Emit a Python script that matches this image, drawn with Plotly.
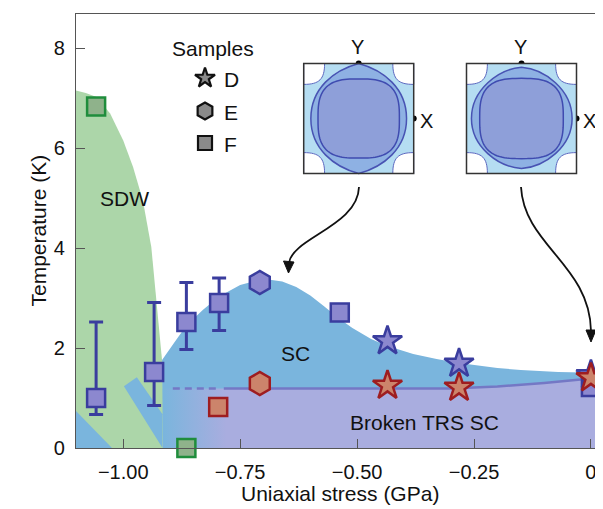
import plotly.graph_objects as go

# ---------------- data ----------------
x_tickvals = [-1.0, -0.75, -0.5, -0.25, 0.0]
x_ticktext = ["−1.00", "−0.75", "−0.50", "−0.25", "0"]
y_tickvals = [0, 2, 4, 6, 8]

# SDW phase boundary (GPa, K)
sdw_x = [-1.101, -1.080, -1.057, -1.028, -1.000, -0.979, -0.958, -0.940, -0.929, -0.922, -0.917, -0.915]
sdw_t = [7.15, 7.10, 7.02, 6.69, 6.15, 5.62, 4.95, 4.02, 2.95, 2.29, 1.75, 0.0]

# SC dome boundary
sc_x = [-0.917, -0.890, -0.865, -0.830, -0.795, -0.750, -0.715, -0.690, -0.660, -0.630, -0.600, -0.570,
        -0.540, -0.510, -0.470, -0.435, -0.380, -0.330, -0.282, -0.200, -0.150, -0.070, 0.0, 0.026]
sc_t = [1.76, 2.12, 2.45, 2.76, 3.03, 3.26, 3.35, 3.37, 3.33, 3.22, 3.05, 2.83,
        2.60, 2.40, 2.18, 2.04, 1.88, 1.78, 1.70, 1.60, 1.56, 1.52, 1.50, 1.50]

# broken-TRS boundary
trs_x = [-0.917, -0.300, -0.200, -0.100, 0.000, 0.026]
trs_t = [1.19, 1.19, 1.23, 1.30, 1.39, 1.41]
trs_dash_x = [-0.894, -0.800]
trs_dash_t = [1.19, 1.19]

# hatched coexistence stripes (SC bands in SDW)
band1_x = [-1.101, -1.101, -1.024]
band1_t = [0.0, 0.74, 0.0]
band2_x = [-0.9985, -0.9709, -0.916, -0.916]
band2_t = [1.234, 1.414, 0.674, 0.0]

# Sample F (squares)
F_err_x = [-1.058, -0.934, -0.865, -0.795]
F_err_t = [1.00, 1.52, 2.52, 2.90]
F_err_up = [1.52, 1.39, 0.79, 0.50]
F_err_dn = [0.33, 0.67, 0.55, 0.55]
F_sc_x = [0.0, -0.537]
F_sc_t = [1.22, 2.71]
F_sdw_x = [-1.058, -0.865]
F_sdw_t = [6.83, 0.0]
F_trs_x = [-0.797]
F_trs_t = [0.82]
# Sample E (hexagons)
E_sc_x = [-0.708]
E_sc_t = [3.31]
E_trs_x = [-0.708]
E_trs_t = [1.29]
# Sample D (stars)
D_sc_x = [-0.435, -0.282, 0.0]
D_sc_t = [2.14, 1.69, 1.46]
D_trs_x = [-0.435, -0.282, 0.0]
D_trs_t = [1.25, 1.21, 1.40]

legend_labels = ["D", "E", "F"]
legend_symbols = ["star", "hexagon", "square"]

# ---------------- style ----------------
FONT = "Liberation Sans, Arial, Helvetica, sans-serif"
BLUE = "#7ab5dd"
GREEN = "#acd6a9"
PURPLE = "#a9addf"
LINEC = "#7478c5"
P_FILL, P_EDGE = "#8c88cf", "#3a3d9e"
R_FILL, R_EDGE = "#cc846b", "#9e1d20"
G_FILL, G_EDGE = "#8fb28b", "#1f8d3c"

X0, X1 = -1.101, 0.0258
Y0, Y1 = 0.0, 8.68

fig = go.Figure()

def poly(xs, ys, color, **kw):
    fig.add_trace(go.Scatter(x=xs, y=ys, mode="lines", fill="toself", fillcolor=color,
                             line=dict(width=0), hoverinfo="skip", showlegend=False, **kw))

# SC dome
poly([sc_x[0]] + sc_x + [sc_x[-1]], [0] + sc_t + [0], BLUE)
# broken TRS region with gradient
fig.add_trace(go.Scatter(x=[trs_x[0]] + trs_x + [trs_x[-1]], y=[0] + trs_t + [0], mode="lines",
                         fill="toself", line=dict(width=0), hoverinfo="skip", showlegend=False,
                         fillgradient=dict(type="horizontal", colorscale=[[0, BLUE], [1, PURPLE]],
                                           start=-0.915, stop=-0.78)))
# SDW
poly([sdw_x[0]] + sdw_x + [sdw_x[0]], [0] + sdw_t + [0], GREEN)
# stripes
poly(band1_x, band1_t, BLUE)
poly(band2_x, band2_t, BLUE)

# TRS line
fig.add_trace(go.Scatter(x=trs_dash_x, y=trs_dash_t, mode="lines",
                         line=dict(color=LINEC, width=2.5, dash="7px,5px"), showlegend=False))
fig.add_trace(go.Scatter(x=[-0.785] + trs_x[1:], y=[1.19] + trs_t[1:], mode="lines",
                         line=dict(color=LINEC, width=2.5), showlegend=False))

def pts(xs, ys, sym, size, fill, edge, **kw):
    fig.add_trace(go.Scatter(x=xs, y=ys, mode="markers", cliponaxis=False, showlegend=False,
                             marker=dict(symbol=sym, size=size, color=fill, line=dict(color=edge, width=2.5)), **kw))

pts(F_err_x, F_err_t, "square", 18, P_FILL, P_EDGE,
    error_y=dict(type="data", symmetric=False, array=F_err_up, arrayminus=F_err_dn,
                 color=P_EDGE, thickness=3, width=7))
pts(F_sc_x, F_sc_t, "square", 18, P_FILL, P_EDGE)
pts(F_sdw_x, F_sdw_t, "square", 18, G_FILL, G_EDGE)
pts(F_trs_x, F_trs_t, "square", 18, R_FILL, R_EDGE)
pts(E_sc_x, E_sc_t, "hexagon", 23, P_FILL, P_EDGE)
pts(E_trs_x, E_trs_t, "hexagon", 23, R_FILL, R_EDGE)
pts(D_sc_x, D_sc_t, "star", 22, P_FILL, P_EDGE)
pts(D_trs_x, D_trs_t, "star", 22, R_FILL, R_EDGE)

# ---------------- overlay pixel axes for decorations ----------------
shapes = []
annos = []

def U(cx, cy, u, v):
    return (cx + 55 * u, cy - 55 * v)

def path_from(cx, cy, cmds):
    s = ""
    for c in cmds:
        if isinstance(c, str):
            s += c + " "
        else:
            x, y = U(cx, cy, c[0], c[1])
            s += f"{x:.2f},{y:.2f} "
    return s.strip()

def superellipse(cx, cy, a, b, n, N=120):
    import math
    s = ""
    for i in range(N):
        th = 2 * math.pi * i / N
        c, sn = math.cos(th), math.sin(th)
        x = a * (abs(c) ** (2 / n)) * (1 if c >= 0 else -1)
        y = b * (abs(sn) ** (2 / n)) * (1 if sn >= 0 else -1)
        px, py = U(cx, cy, x, y)
        s += ("M " if i == 0 else "L ") + f"{px:.2f},{py:.2f} "
    return s + "Z"

def inset(cx, cy, outer_cmds, inner_a, inner_b, pocket=0.62):
    shapes.append(dict(type="rect", xref="x2", yref="y2", x0=cx - 55, x1=cx + 55, y0=cy - 55, y1=cy + 55,
                       fillcolor="#b5ddf2", line=dict(width=0), layer="above"))
    p = pocket
    for sx in (-1, 1):
        for sy in (-1, 1):
            cmds = ["M", (sx * 1, sy * p), "C", (sx * (1 - (1 - p) * 0.75), sy * p),
                    (sx * p, sy * (1 - (1 - p) * 0.75)), (sx * p, sy * 1), "L", (sx, sy), "Z"]
            shapes.append(dict(type="path", xref="x2", yref="y2", path=path_from(cx, cy, cmds),
                               fillcolor="white", line=dict(color="#5c68c0", width=1), layer="above"))
    shapes.append(dict(type="path", xref="x2", yref="y2", path=path_from(cx, cy, outer_cmds),
                       fillcolor="#8eb1e3", line=dict(color="#4853b3", width=1.5), layer="above"))
    shapes.append(dict(type="path", xref="x2", yref="y2", path=superellipse(cx, cy, inner_a, inner_b, 3.0),
                       fillcolor="#8e9fd9", line=dict(color="#3f4bb0", width=1.5), layer="above"))
    shapes.append(dict(type="rect", xref="x2", yref="y2", x0=cx - 55, x1=cx + 55, y0=cy - 55, y1=cy + 55,
                       fillcolor="rgba(0,0,0,0)", line=dict(color="#333", width=1.5), layer="above"))

lemon = ["M", (0, 1), "C", (-0.45, 0.88), (-0.87, 0.55), (-0.87, 0),
         "C", (-0.87, -0.55), (-0.45, -0.88), (0, -1),
         "C", (0.45, -0.88), (0.87, -0.55), (0.87, 0),
         "C", (0.87, 0.55), (0.45, 0.88), (0, 1), "Z"]
roundish = ["M", (0, 0.93), "C", (-0.42, 0.90), (-0.91, 0.52), (-0.91, 0),
            "C", (-0.91, -0.52), (-0.42, -0.88), (0, -0.91),
            "C", (0.42, -0.88), (0.92, -0.52), (0.92, 0),
            "C", (0.92, 0.52), (0.42, 0.90), (0, 0.93), "Z"]

L_C = (358.7, 118.5)
R_C = (521.5, 118.5)
inset(*L_C, lemon, 0.74, 0.72)
inset(*R_C, roundish, 0.76, 0.73)

# arrows
shapes.append(dict(type="path", xref="x2", yref="y2", path="M 359,187 C 358,226 292,238 289,263",
                   line=dict(color="#111", width=1.8), layer="above"))
shapes.append(dict(type="path", xref="x2", yref="y2", path="M 283.5,261 L 294,262 L 288.5,273 Z",
                   fillcolor="#111", line=dict(color="#111", width=1), layer="above"))
shapes.append(dict(type="path", xref="x2", yref="y2", path="M 521,187 C 524,245 590,265 591,331",
                   line=dict(color="#111", width=1.8), layer="above"))
shapes.append(dict(type="path", xref="x2", yref="y2", path="M 586,330 L 596,330 L 591,342 Z",
                   fillcolor="#111", line=dict(color="#111", width=1), layer="above"))

# inset dots
dot_x = [L_C[0], L_C[0] + 55, R_C[0], R_C[0] + 55]
dot_y = [L_C[1] - 55, L_C[1], R_C[1] - 55, R_C[1]]
fig.add_trace(go.Scatter(x=dot_x, y=dot_y, xaxis="x2", yaxis="y2", mode="markers", cliponaxis=False,
                         marker=dict(size=6, color="black"), showlegend=False, hoverinfo="skip"))

def txt(x, y, s, size=21, xanchor="center", ref="x2"):
    annos.append(dict(x=x, y=y, xref=ref, yref=ref.replace("x", "y"), text=s, showarrow=False,
                      xanchor=xanchor, yanchor="middle", font=dict(family=FONT, size=size, color="#111")))

txt(L_C[0] - 1, 47, "Y", 20)
txt(426, 121, "X", 20)
txt(R_C[0] - 1, 47, "Y", 20)
txt(589.5, 121, "X", 20)

# legend
leg_y = [78, 111, 143]
leg_sizes = [15, 17, 14]
for lab, sym, yy, sz in zip(legend_labels, legend_symbols, leg_y, leg_sizes):
    fig.add_trace(go.Scatter(x=[205], y=[yy], xaxis="x2", yaxis="y2", mode="markers", showlegend=False,
                             marker=dict(symbol=sym, size=sz, color="#8a8a8a", line=dict(color="#111", width=2.2))))
    txt(222, yy + 1, lab, 21, "left")
txt(212.5, 48, "Samples", 21)

# region labels (data coords)
txt(-0.998, 4.99, "SDW", 21, ref="x")
txt(-0.631, 1.89, "SC", 21, ref="x")
txt(-0.356, 0.51, "Broken TRS SC", 21, ref="x")

# axis titles
annos.append(dict(x=(24 - 76) / 527, y=0.5, xref="paper", yref="paper", text="Temperature (K)",
                  textangle=-90, showarrow=False, font=dict(family=FONT, size=21, color="#111")))
annos.append(dict(x=(340 - 76) / 527, y=(448 - 493) / 434, xref="paper", yref="paper",
                  text="Uniaxial stress (GPa)", showarrow=False, yanchor="middle",
                  font=dict(family=FONT, size=21, color="#111")))

axis_common = dict(showgrid=False, zeroline=False, ticks="inside", ticklen=9, tickwidth=1.3,
                   tickcolor="#555", showline=True, linecolor="#555", linewidth=1.3,
                   tickfont=dict(family=FONT, size=20, color="#111"))

# page body has an 8px margin: figure is 595x501 so the plot area lands at x 76-603, y 14-448 on screen
fig.update_layout(
    width=595, height=501,
    margin=dict(l=68, r=0, t=6, b=61),
    paper_bgcolor="white", plot_bgcolor="white",
    showlegend=False,
    xaxis=dict(range=[X0, X1], tickvals=x_tickvals, ticktext=x_ticktext, mirror=True,
               ticklabelstandoff=6, **axis_common),
    yaxis=dict(range=[Y0, Y1], tickvals=y_tickvals, ticklabelstandoff=6, **axis_common),
    xaxis2=dict(overlaying="x", range=[76, 603], visible=False, anchor="y2"),
    yaxis2=dict(overlaying="y", range=[448, 14], visible=False, anchor="x2"),
    shapes=shapes, annotations=annos,
)

fig.write_html("out.html")
